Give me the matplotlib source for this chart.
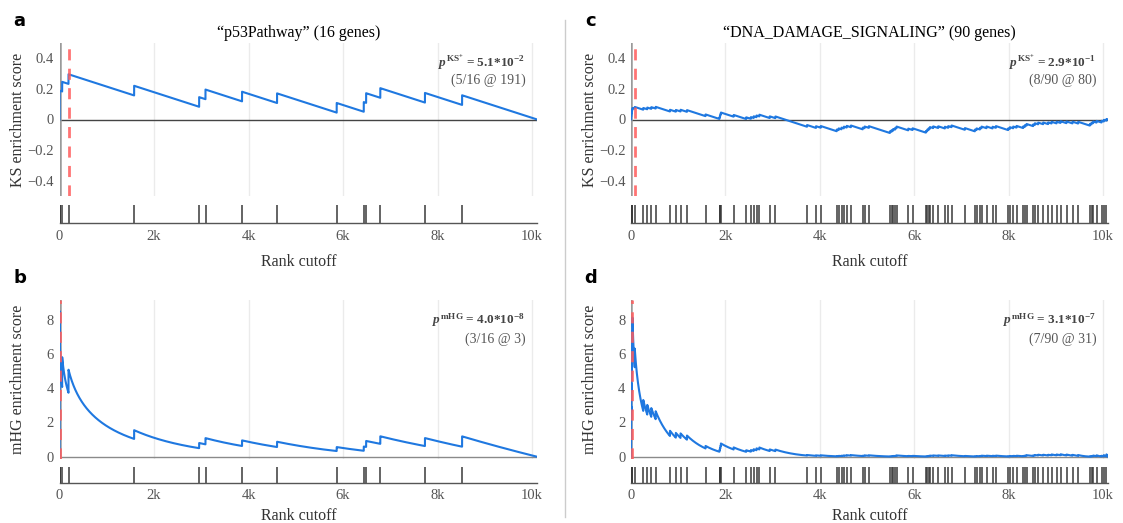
import numpy as np
import matplotlib
matplotlib.use('Agg')
import matplotlib.pyplot as plt

plt.rcParams['font.family'] = ['Liberation Serif', 'DejaVu Serif']
plt.rcParams['mathtext.fontset'] = 'custom'
plt.rcParams['mathtext.rm'] = 'Liberation Serif:bold'
plt.rcParams['mathtext.it'] = 'Liberation Serif:italic:bold'
plt.rcParams['mathtext.bf'] = 'Liberation Serif:bold'

# ranked list size and hit positions
N = 10110
p53_hits = [1, 2, 3, 57, 191, 1580, 2956, 3090, 3864, 4605, 5867, 6440, 6490,
            6790, 7735, 8521]
dna_hits = [3, 6, 9, 13, 18, 24, 31, 80,
            260, 345, 430, 523, 826, 950, 1050, 1186, 1580,
            1875, 1885, 1895, 1905,
            2175, 2441,
            2540, 2600, 2660, 2720, 2940, 3060,
            3730, 3920, 4020,
            4360, 4400, 4460, 4510, 4570, 4660, 4910, 4950, 5040,
            5486, 5521, 5556, 5598, 5627, 5874, 5966,
            6248, 6276, 6305, 6333, 6403, 6509, 6650, 6721, 6792, 7074, 7286,
            7321, 7392, 7427, 7533, 7660, 7731,
            7992, 8027, 8098, 8168, 8310, 8345, 8380, 8521, 8557, 8627, 8733,
            8839, 8910, 9016, 9100, 9227, 9354, 9474,
            9722, 9757, 9792, 9863, 9969, 10018, 10074]

titles = ['\u201cp53Pathway\u201d (16 genes)', '\u201cDNA_DAMAGE_SIGNALING\u201d (90 genes)']
ks_cut = [191, 80]
mhg_cut = [3, 31]
ks_p = [r'$p^{\mathrm{KS}^{+}}$ = 5.1*10$^{\mathrm{-2}}$', r'$p^{\mathrm{KS}^{+}}$ = 2.9*10$^{\mathrm{-1}}$']
ks_info = ['(5/16 @ 191)', '(8/90 @ 80)']
mhg_p = [r'$p^{\mathrm{mHG}}$ = 4.0*10$^{\mathrm{-8}}$', r'$p^{\mathrm{mHG}}$ = 3.1*10$^{\mathrm{-7}}$']
mhg_info = ['(3/16 @ 3)', '(7/90 @ 31)']
xticks = [0, 2000, 4000, 6000, 8000, 10000]
xticklabels = ['0', '2k', '4k', '6k', '8k', '10k']

W, H = 1123, 523
fig = plt.figure(figsize=(W / 100, H / 100), dpi=100)


def px_axes(x0, x1, y0, y1):
    return fig.add_axes([x0 / W, 1 - y1 / H, (x1 - x0) / W, (y1 - y0) / H])


def cum_hits(hits):
    c = np.zeros(N + 1)
    np.add.at(c, np.array(hits), 1)
    return np.cumsum(c)


def ks_curve(hits):
    K = len(hits)
    n = np.arange(N + 1)
    k = cum_hits(hits)
    return k / K - (n - k) / (N - K)


def mhg_curve(hits):
    K = len(hits)
    lf = np.concatenate([[0.0], np.cumsum(np.log(np.arange(1, N + 1)))])
    n = np.arange(N + 1)
    k = cum_hits(hits)
    tail = np.zeros(N + 1)
    for x in range(K + 1):
        m = n - x
        ok = (m >= 0) & (m <= N - K) & (x >= k)
        lp = (lf[K] - lf[x] - lf[K - x]) + (lf[N - K] - lf[m[ok]] - lf[N - K - m[ok]]) \
            - (lf[N] - lf[n[ok]] - lf[N - n[ok]])
        tail[ok] += np.exp(lp)
    return -np.log10(np.clip(tail, 1e-300, 1))


def panel(x0, x1, top, bot, rtop, rbot, y, ylim, yt, ytl, ylabel, hits, cut,
          zcol, ann1, ann2, letter, title, xlab_y):
    ax = px_axes(x0, x1, top, bot)
    ax.set_xlim(0, N)
    ax.set_ylim(*ylim)
    for g in xticks[1:]:
        ax.axvline(g, color='#ebebeb', lw=1, zorder=0)
    ax.axhline(0, color=zcol, lw=1, zorder=1)
    ax.axvline(0, color='#9a9a9a', lw=1.8, zorder=1)
    ax.plot(np.arange(N + 1), y, color='#1f78e0', lw=1.5, zorder=3)
    ax.axvline(cut, color='#ff5c5c', lw=2, dashes=(4, 3), alpha=0.85, zorder=4)
    ax.set_xticks([])
    ax.set_yticks(yt)
    ax.set_yticklabels(ytl)
    ax.tick_params(axis='y', length=0, pad=4, labelsize=10.5, labelcolor='#555555')
    for s in ax.spines.values():
        s.set_visible(False)
    ax.text(0.975, 0.87, ann1, transform=ax.transAxes, ha='right', va='center',
            fontsize=9.5, color='#444444', fontweight='bold')
    ax.text(0.975, 0.755, ann2, transform=ax.transAxes, ha='right', va='center',
            fontsize=10, color='#555555')

    rug = px_axes(x0, x1, rtop, rbot)
    rug.set_xlim(0, N)
    rug.set_ylim(0, 1)
    rug.vlines(hits, 0, 1, color='#3a3a3a', lw=1.3, alpha=0.85)
    rug.set_yticks([])
    rug.set_xticks(xticks)
    rug.set_xticklabels(xticklabels)
    rug.tick_params(axis='x', length=0, pad=5, labelsize=10.5, labelcolor='#555555')
    for s in ['top', 'left', 'right']:
        rug.spines[s].set_visible(False)
    rug.spines['bottom'].set_color('#555555')
    rug.spines['bottom'].set_linewidth(1)

    fig.text((x0 - 41) / W, 1 - (top + bot) / 2 / H, ylabel, rotation=90,
             ha='center', va='center', fontsize=11.5, color='#333333')
    fig.text((x0 + x1) / 2 / W, 1 - xlab_y / H, 'Rank cutoff', ha='center',
             va='center', fontsize=11.5, color='#333333')
    fig.text((x0 - 40) / W, 1 - (top - 22) / H, letter, ha='center', va='center',
             fontsize=13, fontweight='bold', family='DejaVu Sans', color='black')
    if title:
        fig.text((x0 + x1) / 2 / W, 1 - 33 / H, title, ha='center', va='center',
                 fontsize=11.5, color='black')


cols = [(59.5, 59.5 + N * 0.04725), (631, 631 + N * 0.0472)]
for i, hits in enumerate([p53_hits, dna_hits]):
    x0, x1 = cols[i]
    panel(x0, x1, 42.6, 196.4, 205, 223.3, ks_curve(hits), (-0.5, 0.5),
          [-0.4, -0.2, 0, 0.2, 0.4], ['\u22120.4', '\u22120.2', '0', '0.2', '0.4'],
          'KS enrichment score', hits, ks_cut[i], '#444444', ks_p[i], ks_info[i],
          'ac'[i], titles[i], 262)
    panel(x0, x1, 300, 459, 467, 482.5, mhg_curve(hits), (-0.13, 9.14),
          [0, 2, 4, 6, 8], ['0', '2', '4', '6', '8'],
          'mHG enrichment score', hits, mhg_cut[i], '#8a8a8a', mhg_p[i], mhg_info[i],
          'bd'[i], None, 516)

fig.add_artist(plt.Line2D([565 / W, 565 / W], [1 - 20 / H, 1 - 517 / H],
                          color='#cccccc', lw=1))

fig.savefig('out.png', dpi=100)
